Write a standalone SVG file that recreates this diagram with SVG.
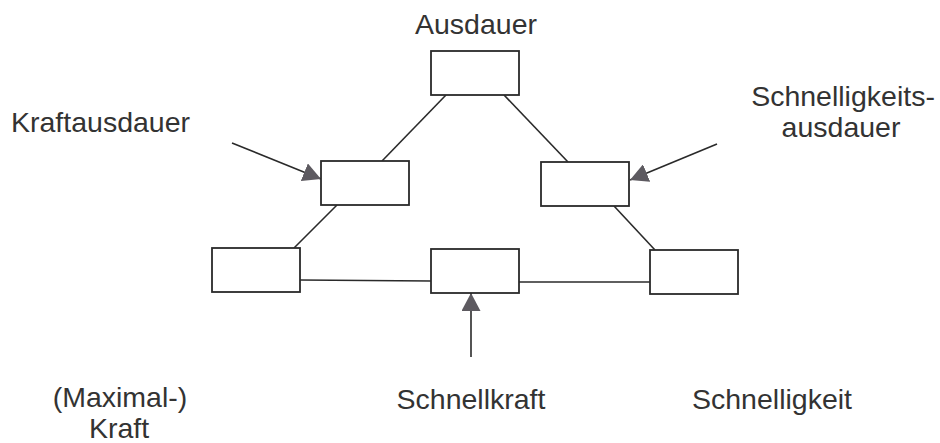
<svg xmlns="http://www.w3.org/2000/svg" width="940" height="443" viewBox="0 0 940 443">
<style>
.box{fill:#fff;stroke:#2a2a2a;stroke-width:1.8}
.ln{fill:none;stroke:#2a2a2a;stroke-width:1.6}
.lbl{font-family:"Liberation Sans",Arial,sans-serif;font-size:28.5px;fill:#333}
</style>
<defs>
<marker id="ah" viewBox="0 0 18 19" refX="18" refY="9.5" markerWidth="18" markerHeight="19" markerUnits="userSpaceOnUse" orient="auto">
<path d="M0,0 L18,9.5 L0,19 Z" fill="#5d5a60"/>
</marker>
</defs>
<rect width="940" height="443" fill="#fff"/>
<g id="connectors">
<line class="ln" x1="446" y1="95" x2="382" y2="161"/>
<line class="ln" x1="504" y1="95" x2="568" y2="162"/>
<line class="ln" x1="337" y1="205" x2="294" y2="248"/>
<line class="ln" x1="614" y1="206" x2="655" y2="250"/>
<line class="ln" x1="300" y1="280" x2="431" y2="281"/>
<line class="ln" x1="519" y1="282" x2="650" y2="282"/>
<line class="ln" x1="232" y1="143" x2="321" y2="179" marker-end="url(#ah)"/>
<line class="ln" x1="717" y1="144" x2="630" y2="180" marker-end="url(#ah)"/>
<line class="ln" x1="471" y1="357" x2="471" y2="293" marker-end="url(#ah)"/>
</g>
<g id="ausdauer">
<rect class="box" x="431" y="51" width="88" height="44"/>
<text class="lbl" x="476" y="34" text-anchor="middle">Ausdauer</text>
</g>
<g id="kraftausdauer">
<rect class="box" x="321" y="161" width="88" height="44"/>
<text class="lbl" x="11" y="132">Kraftausdauer</text>
</g>
<g id="schnelligkeitsausdauer">
<rect class="box" x="541" y="162" width="88" height="44"/>
<text class="lbl" x="843" y="106" text-anchor="middle">Schnelligkeits-</text>
<text class="lbl" x="841" y="137" text-anchor="middle">ausdauer</text>
</g>
<g id="maximalkraft">
<rect class="box" x="212" y="248" width="88" height="44"/>
<text class="lbl" x="120" y="407" text-anchor="middle">(Maximal-)</text>
<text class="lbl" x="119" y="438" text-anchor="middle">Kraft</text>
</g>
<g id="schnellkraft">
<rect class="box" x="431" y="249" width="88" height="44"/>
<text class="lbl" x="471" y="409" text-anchor="middle">Schnellkraft</text>
</g>
<g id="schnelligkeit">
<rect class="box" x="650" y="250" width="88" height="44"/>
<text class="lbl" x="772" y="409" text-anchor="middle">Schnelligkeit</text>
</g>
</svg>
